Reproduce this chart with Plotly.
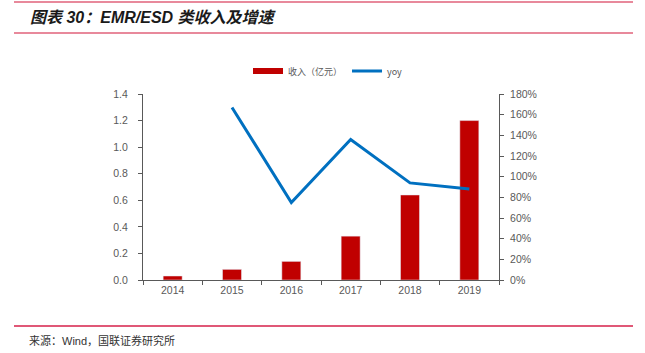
import plotly.graph_objects as go

years = ["2014", "2015", "2016", "2017", "2018", "2019"]
revenue = [0.03, 0.08, 0.14, 0.33, 0.64, 1.20]
yoy = [None, 1.67, 0.75, 1.36, 0.94, 0.88]

W, H = 645, 353
L, R, T, B = 143, 499, 94, 280


def px(x):
    return (x - L) / (R - L)


def py(y):
    return (B - y) / (B - T)


fig = go.Figure()
fig.add_trace(go.Bar(x=years, y=revenue, name="收入（亿元）", marker_color="#C00000",
                     width=0.32, yaxis="y", showlegend=False))
# legend-only entry with a wide red swatch, like the reference
fig.add_trace(go.Scatter(x=[None], y=[None], name="收入（亿元）", mode="lines",
                         line=dict(color="#C00000", width=6), yaxis="y"))
fig.add_trace(go.Scatter(x=years, y=yoy, name="yoy", mode="lines",
                         line=dict(color="#0070C0", width=3), yaxis="y2",
                         connectgaps=False))

axis_col = "#595959"
tick_font = dict(family="Arial, Liberation Sans, sans-serif", size=10.5, color="#595959")

fig.update_layout(
    width=W, height=H,
    margin=dict(l=L, r=W - R, t=T, b=H - B, pad=0),
    paper_bgcolor="white", plot_bgcolor="white",
    showlegend=True,
    legend=dict(orientation="h", x=px(328), xanchor="center", y=py(71), yanchor="middle",
                font=dict(family="Noto Sans CJK SC, Arial", size=9, color="#595959"),
                itemwidth=30, tracegroupgap=0, bgcolor="rgba(0,0,0,0)"),
    xaxis=dict(type="category", showline=True, linecolor=axis_col, linewidth=1,
               ticks="outside", tickson="boundaries", ticklen=4, tickcolor=axis_col,
               tickfont=tick_font, showgrid=False, zeroline=False),
    yaxis=dict(range=[0, 1.4], dtick=0.2, tickformat=".1f", showline=True,
               linecolor=axis_col, linewidth=1, ticks="outside", ticklen=4,
               tickcolor=axis_col, tickfont=tick_font, showgrid=False, zeroline=False,
               ticklabelstandoff=8),
    yaxis2=dict(range=[0, 1.8], dtick=0.2, tickformat=".0%", overlaying="y", side="right",
                showline=True, linecolor=axis_col, linewidth=1, ticks="outside",
                ticklen=4, tickcolor=axis_col, tickfont=tick_font, showgrid=False,
                zeroline=False, ticklabelstandoff=4),
    bargap=0.68,
)

# header lines and title
for yy, col in [(2, "#E8899B"), (33, "#E8899B")]:
    fig.add_shape(type="line", xref="paper", yref="paper", x0=px(14), x1=px(633),
                  y0=py(yy), y1=py(yy), line=dict(color=col, width=2))
fig.add_shape(type="line", xref="paper", yref="paper", x0=px(14), x1=px(633),
              y0=py(326), y1=py(326), line=dict(color="#D6204A", width=1.5))

fig.add_annotation(text="<b><i>图表 30：EMR/ESD 类收入及增速</i></b>", xref="paper", yref="paper",
                   x=px(28), y=py(18), xanchor="left", yanchor="middle", showarrow=False,
                   font=dict(family="Arial, Noto Sans CJK SC", size=16, color="#1a1a1a"))
fig.add_annotation(text="来源：Wind，国联证券研究所", xref="paper", yref="paper",
                   x=px(27), y=py(340), xanchor="left", yanchor="middle", showarrow=False,
                   font=dict(family="Arial, Noto Sans CJK SC", size=11, color="#333333"))

fig.write_html("out.html")
